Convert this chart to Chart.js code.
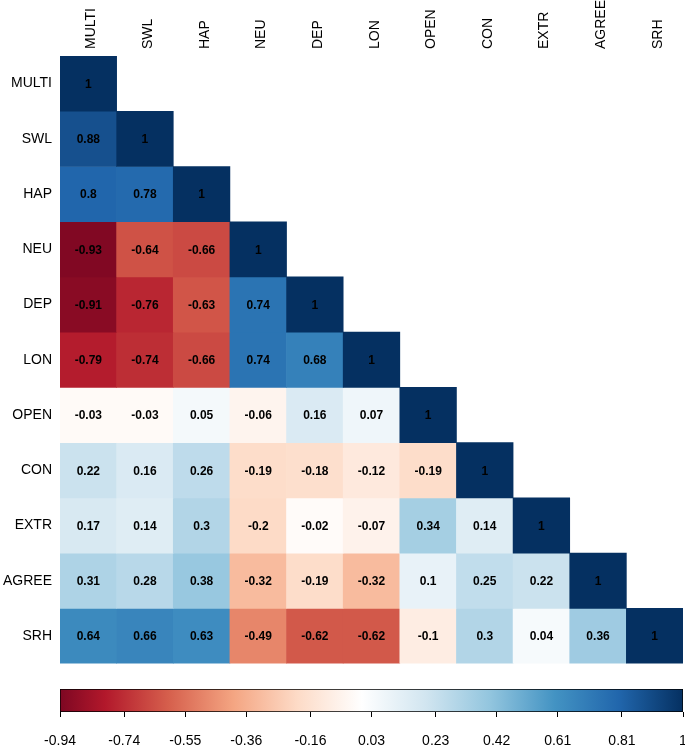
<!DOCTYPE html>
<html>
<head>
<meta charset="utf-8">
<script src="https://cdn.jsdelivr.net/npm/chart.js@4"></script>
<style>
  body { margin: 0; background: #fff; }
  #wrap { position: relative; width: 685px; height: 747px; }
  #corrChart { position: absolute; left: 0; top: 0; }
  #barChart { position: absolute; left: 0; top: 680px; }
</style>
</head>
<body>
<div id="wrap">
  <canvas id="corrChart" width="685" height="680"></canvas>
  <canvas id="barChart" width="685" height="67"></canvas>
</div>
<script>
/* global Chart */
// variables (rows and columns share the same order)
const varNames = ['MULTI', 'SWL', 'HAP', 'NEU', 'DEP', 'LON', 'OPEN', 'CON', 'EXTR', 'AGREE', 'SRH']
// lower triangle of the correlation matrix, one array per row
const corrRows = [
  [1],
  [0.88, 1],
  [0.8, 0.78, 1],
  [-0.93, -0.64, -0.66, 1],
  [-0.91, -0.76, -0.63, 0.74, 1],
  [-0.79, -0.74, -0.66, 0.74, 0.68, 1],
  [-0.03, -0.03, 0.05, -0.06, 0.16, 0.07, 1],
  [0.22, 0.16, 0.26, -0.19, -0.18, -0.12, -0.19, 1],
  [0.17, 0.14, 0.3, -0.2, -0.02, -0.07, 0.34, 0.14, 1],
  [0.31, 0.28, 0.38, -0.32, -0.19, -0.32, 0.1, 0.25, 0.22, 1],
  [0.64, 0.66, 0.63, -0.49, -0.62, -0.62, -0.1, 0.3, 0.04, 0.36, 1]
]
// colour bar tick labels
const scaleTicks = [-0.94, -0.74, -0.55, -0.36, -0.16, 0.03, 0.23, 0.42, 0.61, 0.81, 1]
// RdBu palette from -1 to 1
const paletteColors = ['#67001F', '#B2182B', '#D6604D', '#F4A582', '#FDDBC7', '#FFFFFF',
  '#D1E5F0', '#92C5DE', '#4393C3', '#2166AC', '#053061']

const fontFamily = '"Liberation Sans", Arial, Helvetica, sans-serif'

function hexToRgb (h) {
  return [1, 3, 5].map(k => parseInt(h.slice(k, k + 2), 16))
}

function corrColor (v) {
  const pos = (v + 1) / 2 * (paletteColors.length - 1)
  const i = Math.min(paletteColors.length - 2, Math.max(0, Math.floor(pos)))
  const t = pos - i
  const a = hexToRgb(paletteColors[i])
  const b = hexToRgb(paletteColors[i + 1])
  const c = a.map((x, k) => Math.round(x + (b[k] - x) * t))
  return `rgb(${c[0]}, ${c[1]}, ${c[2]})`
}

// writes the coefficient in the middle of each cell
const cellText = {
  id: 'cellText',
  afterDatasetsDraw (chart) {
    const ctx = chart.ctx
    ctx.save()
    ctx.font = `bold 12px ${fontFamily}`
    ctx.fillStyle = '#000'
    ctx.textAlign = 'center'
    ctx.textBaseline = 'middle'
    chart.data.datasets.forEach((ds, i) => {
      chart.getDatasetMeta(i).data.forEach((bar, j) => {
        if (j > i) return
        const p = bar.getCenterPoint()
        ctx.fillText(String(corrRows[i][j]), p.x, p.y + 1)
      })
    })
    ctx.restore()
  }
}

const corrChart = new Chart(document.getElementById('corrChart'), {
  type: 'bar',
  data: {
    labels: varNames,
    datasets: varNames.map((name, i) => ({
      label: name,
      data: varNames.map((c, j) => (j <= i ? [i, i + 1] : null)),
      backgroundColor: ctx => corrColor(corrRows[i][ctx.dataIndex] ?? 0),
      borderWidth: 0,
      grouped: false,
      barPercentage: 1,
      categoryPercentage: 1
    }))
  },
  options: {
    responsive: false,
    animation: false,
    layout: { padding: { left: 0, right: 2, top: 0, bottom: 1 } },
    plugins: { legend: { display: false }, tooltip: { enabled: false } },
    scales: {
      x: {
        type: 'category',
        position: 'top',
        grid: { display: false, drawTicks: false, tickLength: 0 },
        border: { display: false },
        ticks: {
          autoSkip: false,
          maxRotation: 90,
          minRotation: 90,
          padding: 7,
          labelOffset: 20,
          color: '#000',
          font: { family: fontFamily, size: 14 }
        },
        afterFit: s => { s.height = 56 }
      },
      y: {
        type: 'linear',
        min: 0,
        max: varNames.length,
        reverse: true,
        grid: { display: false, drawTicks: false, tickLength: 0 },
        border: { display: false },
        afterBuildTicks: s => { s.ticks = varNames.map((n, i) => ({ value: i + 0.5 })) },
        ticks: {
          padding: 8,
          color: '#000',
          font: { family: fontFamily, size: 14 },
          callback: v => varNames[Math.floor(v)]
        },
        afterFit: s => { s.width = 60 }
      }
    }
  },
  plugins: [cellText]
})

// gradient for the colour bar, rebuilt once the x scale has its size
let barGradient = '#fff'
const gradientFill = {
  id: 'gradientFill',
  afterLayout (chart) {
    const x = chart.scales.x
    const g = chart.ctx.createLinearGradient(x.getPixelForValue(-1), 0, x.getPixelForValue(1), 0)
    paletteColors.forEach((c, k) => g.addColorStop(k / (paletteColors.length - 1), c))
    barGradient = g
  }
}

// colour bar: one floating bar filled with the palette gradient
const barChart = new Chart(document.getElementById('barChart'), {
  type: 'bar',
  data: {
    labels: [''],
    datasets: [{
      data: [[scaleTicks[0], scaleTicks[scaleTicks.length - 1]]],
      backgroundColor: () => barGradient,
      borderColor: '#000',
      borderWidth: 1,
      borderSkipped: false,
      barPercentage: 1,
      categoryPercentage: 1
    }]
  },
  options: {
    indexAxis: 'y',
    responsive: false,
    animation: false,
    layout: { padding: { left: 60, right: 2, top: 9, bottom: 0 } },
    plugins: { legend: { display: false }, tooltip: { enabled: false } },
    scales: {
      x: {
        type: 'linear',
        min: scaleTicks[0],
        max: scaleTicks[scaleTicks.length - 1],
        afterBuildTicks: s => { s.ticks = scaleTicks.map(v => ({ value: v })) },
        grid: { drawOnChartArea: false, tickLength: 5, color: '#000' },
        border: { display: false },
        ticks: {
          padding: 16,
          color: '#000',
          font: { family: fontFamily, size: 14 },
          callback: (v, i) => String(scaleTicks[i])
        },
        afterFit: s => {
          s.height = 35
          s.paddingLeft = 0
          s.paddingRight = 0
        }
      },
      y: { display: false }
    }
  },
  plugins: [gradientFill]
})
</script>
</body>
</html>
